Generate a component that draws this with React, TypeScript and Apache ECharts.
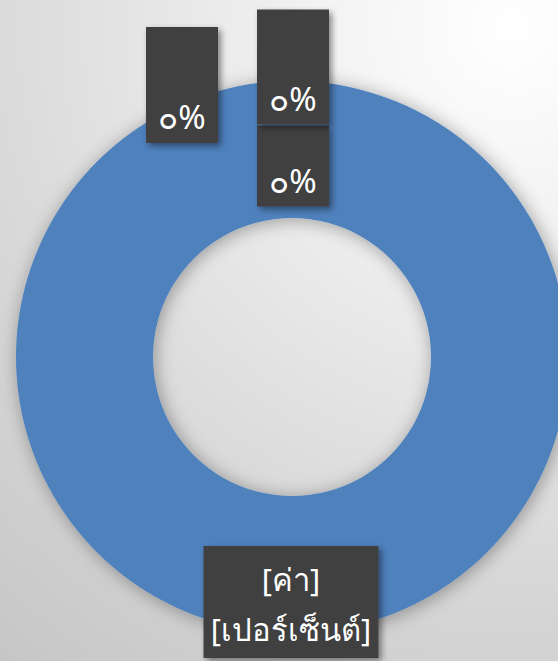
import React, { useEffect, useRef } from "react";
import * as echarts from "echarts";

const categories = ["ชุดที่ 1", "ชุดที่ 2", "ชุดที่ 3", "ชุดที่ 4"];
const values = [0, 0, 0, 100];
const placeholderLines = ["[ค่า]", "[เปอร์เซ็นต์]"];

const thaiDigits = ["๐", "๑", "๒", "๓", "๔", "๕", "๖", "๗", "๘", "๙"];
const toThai = (n: number) =>
  String(Math.round(n)).replace(/[0-9]/g, (d) => thaiDigits[Number(d)]);

// label box centres (px), empty space above the text, box text width
const labelCenters = [
  [182, 85],
  [293, 166],
  [293, 67],
  [291, 602],
];
const labelGaps = [63, 28, 62, 4];
const labelWidths = [52, 52, 52, 155];

export default function App() {
  const ref = useRef<HTMLDivElement>(null);
  useEffect(() => {
    document.body.style.margin = "0";
    const chart = echarts.init(ref.current!, null, { renderer: "svg" });
    const font = '"Noto Sans", "DejaVu Sans", sans-serif';
    chart.setOption({
      animation: false,
      series: [
        {
          type: "pie",
          center: [292, 357],
          radius: [139, 276],
          startAngle: 90,
          clockwise: true,
          avoidLabelOverlap: false,
          itemStyle: {
            color: "#4f81bd",
            shadowBlur: 18,
            shadowColor: "rgba(0,0,0,0.35)",
            shadowOffsetX: 2,
            shadowOffsetY: 2,
          },
          emphasis: { disabled: true },
          label: {
            show: true,
            position: "inside",
            color: "#ffffff",
            fontFamily: font,
            fontSize: 31,
            align: "center",
            overflow: "none",
            padding: [4, 10, 4, 10],
            backgroundColor: "#404040",
            shadowColor: "rgba(0,0,0,0.45)",
            shadowBlur: 6,
            shadowOffsetX: 3,
            shadowOffsetY: 3,
          },
          labelLine: { show: false },
          labelLayout: (p: any) => {
            const c = labelCenters[p.dataIndex];
            return { x: c[0], y: c[1], align: "center", verticalAlign: "middle" };
          },
          data: categories.map((name, i) => ({
            name,
            value: values[i],
            label: {
              width: labelWidths[i],
              overflow: "none",
              rich: {
                g: { fontSize: 8, lineHeight: labelGaps[i], height: labelGaps[i] },
                v: {
                  fontSize: i === 3 ? 31 : 33,
                  fontFamily: font,
                  color: "#ffffff",
                  lineHeight: i === 3 ? 50 : 45,
                  align: "center",
                },
              },
              formatter:
                i === 3
                  ? "{g| }\n" + placeholderLines.map((l) => `{v|${l}}`).join("\n")
                  : (p: any) => `{g| }\n{v|${toThai(p.percent)}%}`,
            },
          })),
        },
      ],
    });
    return () => chart.dispose();
  }, []);
  return (
    <div
      ref={ref}
      style={{
        width: 558,
        height: 661,
        background:
          "radial-gradient(circle at 92% 4%, #ffffff 0%, #f2f2f2 25%, #d6d6d6 70%, #c6c6c6 100%)",
      }}
    />
  );
}
